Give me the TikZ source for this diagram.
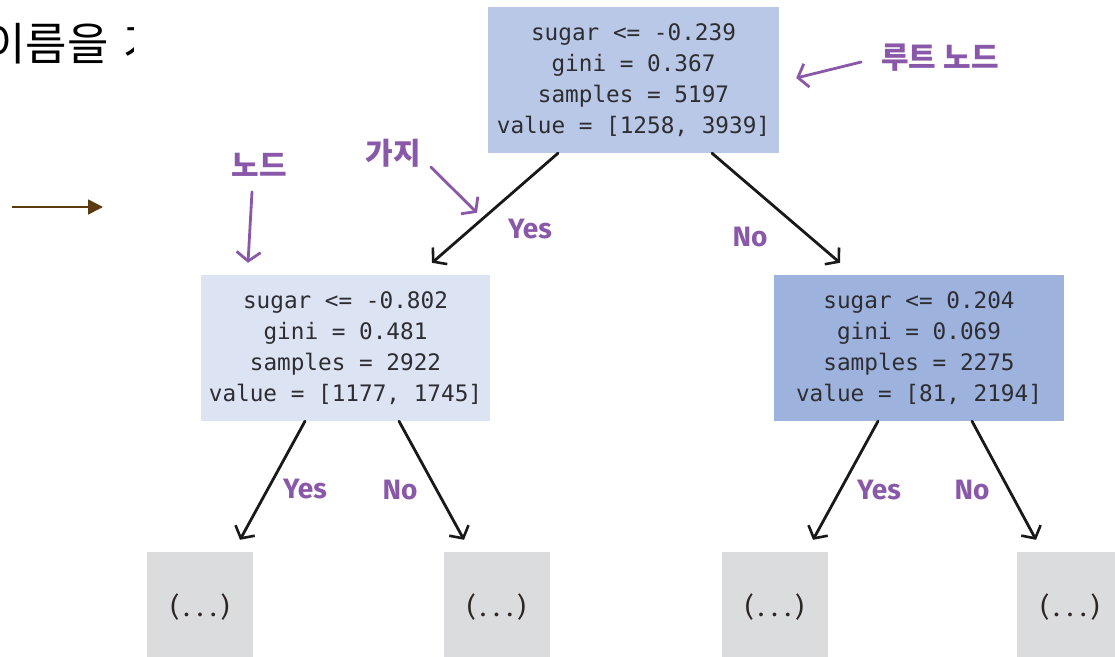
\documentclass[tikz,border=0pt]{standalone}
\usepackage{fontspec}
\newfontfamily\monofont{DejaVu Sans Mono}
\newfontfamily\krfont{Noto Sans CJK KR}
\newfontfamily\handfont{Fira Sans}
\usetikzlibrary{arrows.meta,calc}
\definecolor{rootfill}{RGB}{185,200,230}
\definecolor{lfill}{RGB}{220,227,243}
\definecolor{rfill}{RGB}{157,178,221}
\definecolor{leaffill}{RGB}{219,220,222}
\definecolor{boxtext}{RGB}{45,45,50}
\definecolor{leaftext}{RGB}{45,38,35}
\definecolor{note}{RGB}{138,88,168}
\definecolor{brownarrow}{RGB}{92,58,16}
\newcommand\gap{(\kern4pt.\kern7pt.\kern7pt.\kern4pt)}
\begin{document}
\begin{tikzpicture}[x=1pt,y=-1pt,
  split/.style={inner sep=0pt, minimum height=146pt, text=boxtext,
    font=\monofont\fontsize{22.7}{31}\selectfont, align=center},
  leaf/.style={fill=leaffill, inner sep=0pt, minimum width=106pt,
    minimum height=110pt, text=leaftext, font=\handfont\fontsize{27}{30}\selectfont},
  branch/.style={line width=2.8pt, draw=black!90, line cap=round,
    -{Straight Barb[length=9pt,width=22pt,line width=2.6pt]}},
  remark/.style={line width=2.8pt, draw=note, line cap=round,
    -{Straight Barb[length=9pt,width=24pt,line width=2.8pt]}},
  answer/.style={text=note, font=\handfont\bfseries\fontsize{28}{34}\selectfont, inner sep=0pt},
  tag/.style={text=note, font=\krfont\bfseries\fontsize{30}{34}\selectfont, inner sep=0pt}]
\useasboundingbox (0,0) rectangle (1115,656);
\clip (0,0) rectangle (1115,656);

% heading fragment, cut at its right edge
\begin{scope}
  \clip (0,0) rectangle (133,100);
  \node[anchor=base west, inner sep=0pt, font=\krfont\fontsize{45}{50}\selectfont]
    (head) at (-16,60) {이름을\hspace{5pt} 가};
\end{scope}
\coordinate (pa) at (12,207);
\coordinate (pb) at (103,207);
\draw[brownarrow, line width=1.6pt, -{Triangle[length=15pt,width=15pt]}] (pa) -- (pb);

% tree nodes
\node[split, fill=rootfill, minimum width=291pt] (root) at (633.5,80)
  {sugar <= -0.239\\gini = 0.367\\samples = 5197\\value = [1258, 3939]};
\node[split, fill=lfill, minimum width=289pt] (lmid) at (345.5,348)
  {sugar <= -0.802\\gini = 0.481\\samples = 2922\\value = [1177, 1745]};
\node[split, fill=rfill, minimum width=290pt] (rmid) at (919,348)
  {sugar <= 0.204\\gini = 0.069\\samples = 2275\\value = [81, 2194]};

\node[leaf] (l1) at (200,607) {\gap};
\node[leaf] (l2) at (496.5,607) {\gap};
\node[leaf] (l3) at (774.5,607) {\gap};
\node[leaf] (l4) at (1070,607) {\gap};

% branches
\draw[branch] ([xshift=-75.5pt]root.south) -- ([xshift=86.5pt,yshift=12pt]lmid.north);
\draw[branch] ([xshift=78.5pt]root.south) -- ([xshift=-79pt,yshift=12pt]rmid.north);
\draw[branch] ([xshift=-40.5pt]lmid.south) -- ([xshift=40pt,yshift=12pt]l1.north);
\draw[branch] ([xshift=53.5pt]lmid.south) -- ([xshift=-32.5pt,yshift=12pt]l2.north);
\draw[branch] ([xshift=-41pt]rmid.south) -- ([xshift=38.5pt,yshift=12pt]l3.north);
\draw[branch] ([xshift=53pt]rmid.south) -- ([xshift=-34pt,yshift=12pt]l4.north);

% branch answers
\node[answer] (a1) at (530,229) {Yes};
\node[answer] (a2) at (750,237) {No};
\node[answer] (a3) at (305,489) {Yes};
\node[answer] (a4) at (400,490) {No};
\node[answer] (a5) at (879,490) {Yes};
\node[answer] (a6) at (972,490) {No};

% annotations
\node[tag] (troot) at (940,58) {루트 노드};
\node[tag] (tnode) at (259,165) {노드};
\node[tag] (tedge) at (393,153) {가지};
\draw[remark] ([xshift=-20pt,yshift=-4pt]troot.west) -- ([xshift=17pt,yshift=2pt]root.east);
\draw[remark] ([xshift=-7pt,yshift=-15pt]tnode.south) -- ([xshift=-97.5pt,yshift=12pt]lmid.north);
\draw[remark] ([xshift=10pt,yshift=-14pt]tedge.east) -- ([xshift=131.5pt,yshift=62pt]lmid.north);
\end{tikzpicture}
\end{document}
